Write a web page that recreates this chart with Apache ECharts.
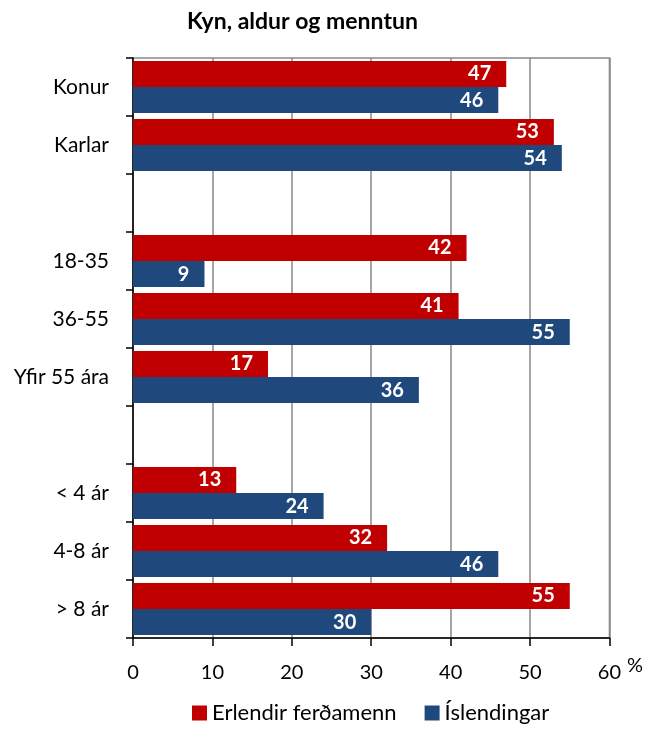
<!DOCTYPE html>
<html>
<head>
<meta charset="utf-8">
<script src="https://cdn.jsdelivr.net/npm/echarts@6/dist/echarts.min.js"></script>
<style>
  html, body { margin: 0; padding: 0; background: #fff; }
  #chart { width: 646px; height: 731px; }
</style>
</head>
<body>
<div id="chart"></div>
<script>
// Groups: gender, age, education (blank rows separate the groups)
const categories = ['Konur', 'Karlar', '', '18-35', '36-55', 'Yfir 55 ára', '', '< 4 ár', '4-8 ár', '> 8 ár'];
const erlendir = [47, 53, null, 42, 41, 17, null, 13, 32, 55];
const islendingar = [46, 54, null, 9, 55, 36, null, 24, 46, 30];
const xTicks = [0, 10, 20, 30, 40, 50, 60];

const FONT = 'Lato, "Open Sans", sans-serif';
const RED = '#C00000';
const BLUE = '#1F497D';

const chart = echarts.init(document.getElementById('chart'), null, { renderer: 'canvas' });

const labelOpt = {
  show: true,
  position: 'insideRight',
  distance: 15,
  color: '#fff',
  fontFamily: FONT,
  fontWeight: 'bold',
  fontSize: 20
};

chart.setOption({
  animation: false,
  backgroundColor: '#fff',
  title: {
    text: 'Kyn, aldur og menntun',
    left: 182,
    top: 5,
    textStyle: { fontFamily: FONT, fontWeight: 'bold', fontSize: 23, color: '#000' }
  },
  legend: {
    bottom: 2,
    left: 187,
    itemWidth: 15,
    itemHeight: 15,
    itemGap: 28,
    icon: 'rect',
    textStyle: { fontFamily: FONT, fontSize: 22, color: '#000' },
    data: ['Erlendir ferðamenn', 'Íslendingar']
  },
  grid: {
    left: 133, right: 36, top: 58, bottom: 93,
    show: true, borderColor: '#888', borderWidth: 1.5
  },
  xAxis: {
    type: 'value',
    min: xTicks[0],
    max: xTicks[xTicks.length - 1],
    interval: 10,
    name: '%',
    nameLocation: 'end',
    nameGap: 10,
    nameTextStyle: { fontFamily: FONT, fontSize: 20, color: '#000', verticalAlign: 'top', padding: [18, 0, 0, 0] },
    axisLine: { show: true, lineStyle: { color: '#000', width: 1.5 } },
    axisTick: { show: true, length: 8, lineStyle: { color: '#000', width: 1.5 } },
    axisLabel: { margin: 25, fontFamily: FONT, fontSize: 20, color: '#000' },
    splitLine: { show: true, lineStyle: { color: '#888', width: 1.5 } }
  },
  yAxis: {
    type: 'category',
    inverse: true,
    data: categories,
    axisLine: { show: true, lineStyle: { color: '#000', width: 1.5 } },
    axisTick: { show: true, length: 7, lineStyle: { color: '#000', width: 1.5 } },
    axisLabel: { margin: 24, fontFamily: FONT, fontSize: 21, color: '#000' },
    splitLine: { show: false }
  },
  series: [
    {
      name: 'Erlendir ferðamenn',
      type: 'bar',
      data: erlendir,
      barGap: '0%',
      barCategoryGap: '10%',
      itemStyle: { color: RED },
      label: labelOpt
    },
    {
      name: 'Íslendingar',
      type: 'bar',
      data: islendingar,
      barGap: '0%',
      barCategoryGap: '10%',
      itemStyle: { color: BLUE },
      label: labelOpt
    }
  ]
});
</script>
</body>
</html>
